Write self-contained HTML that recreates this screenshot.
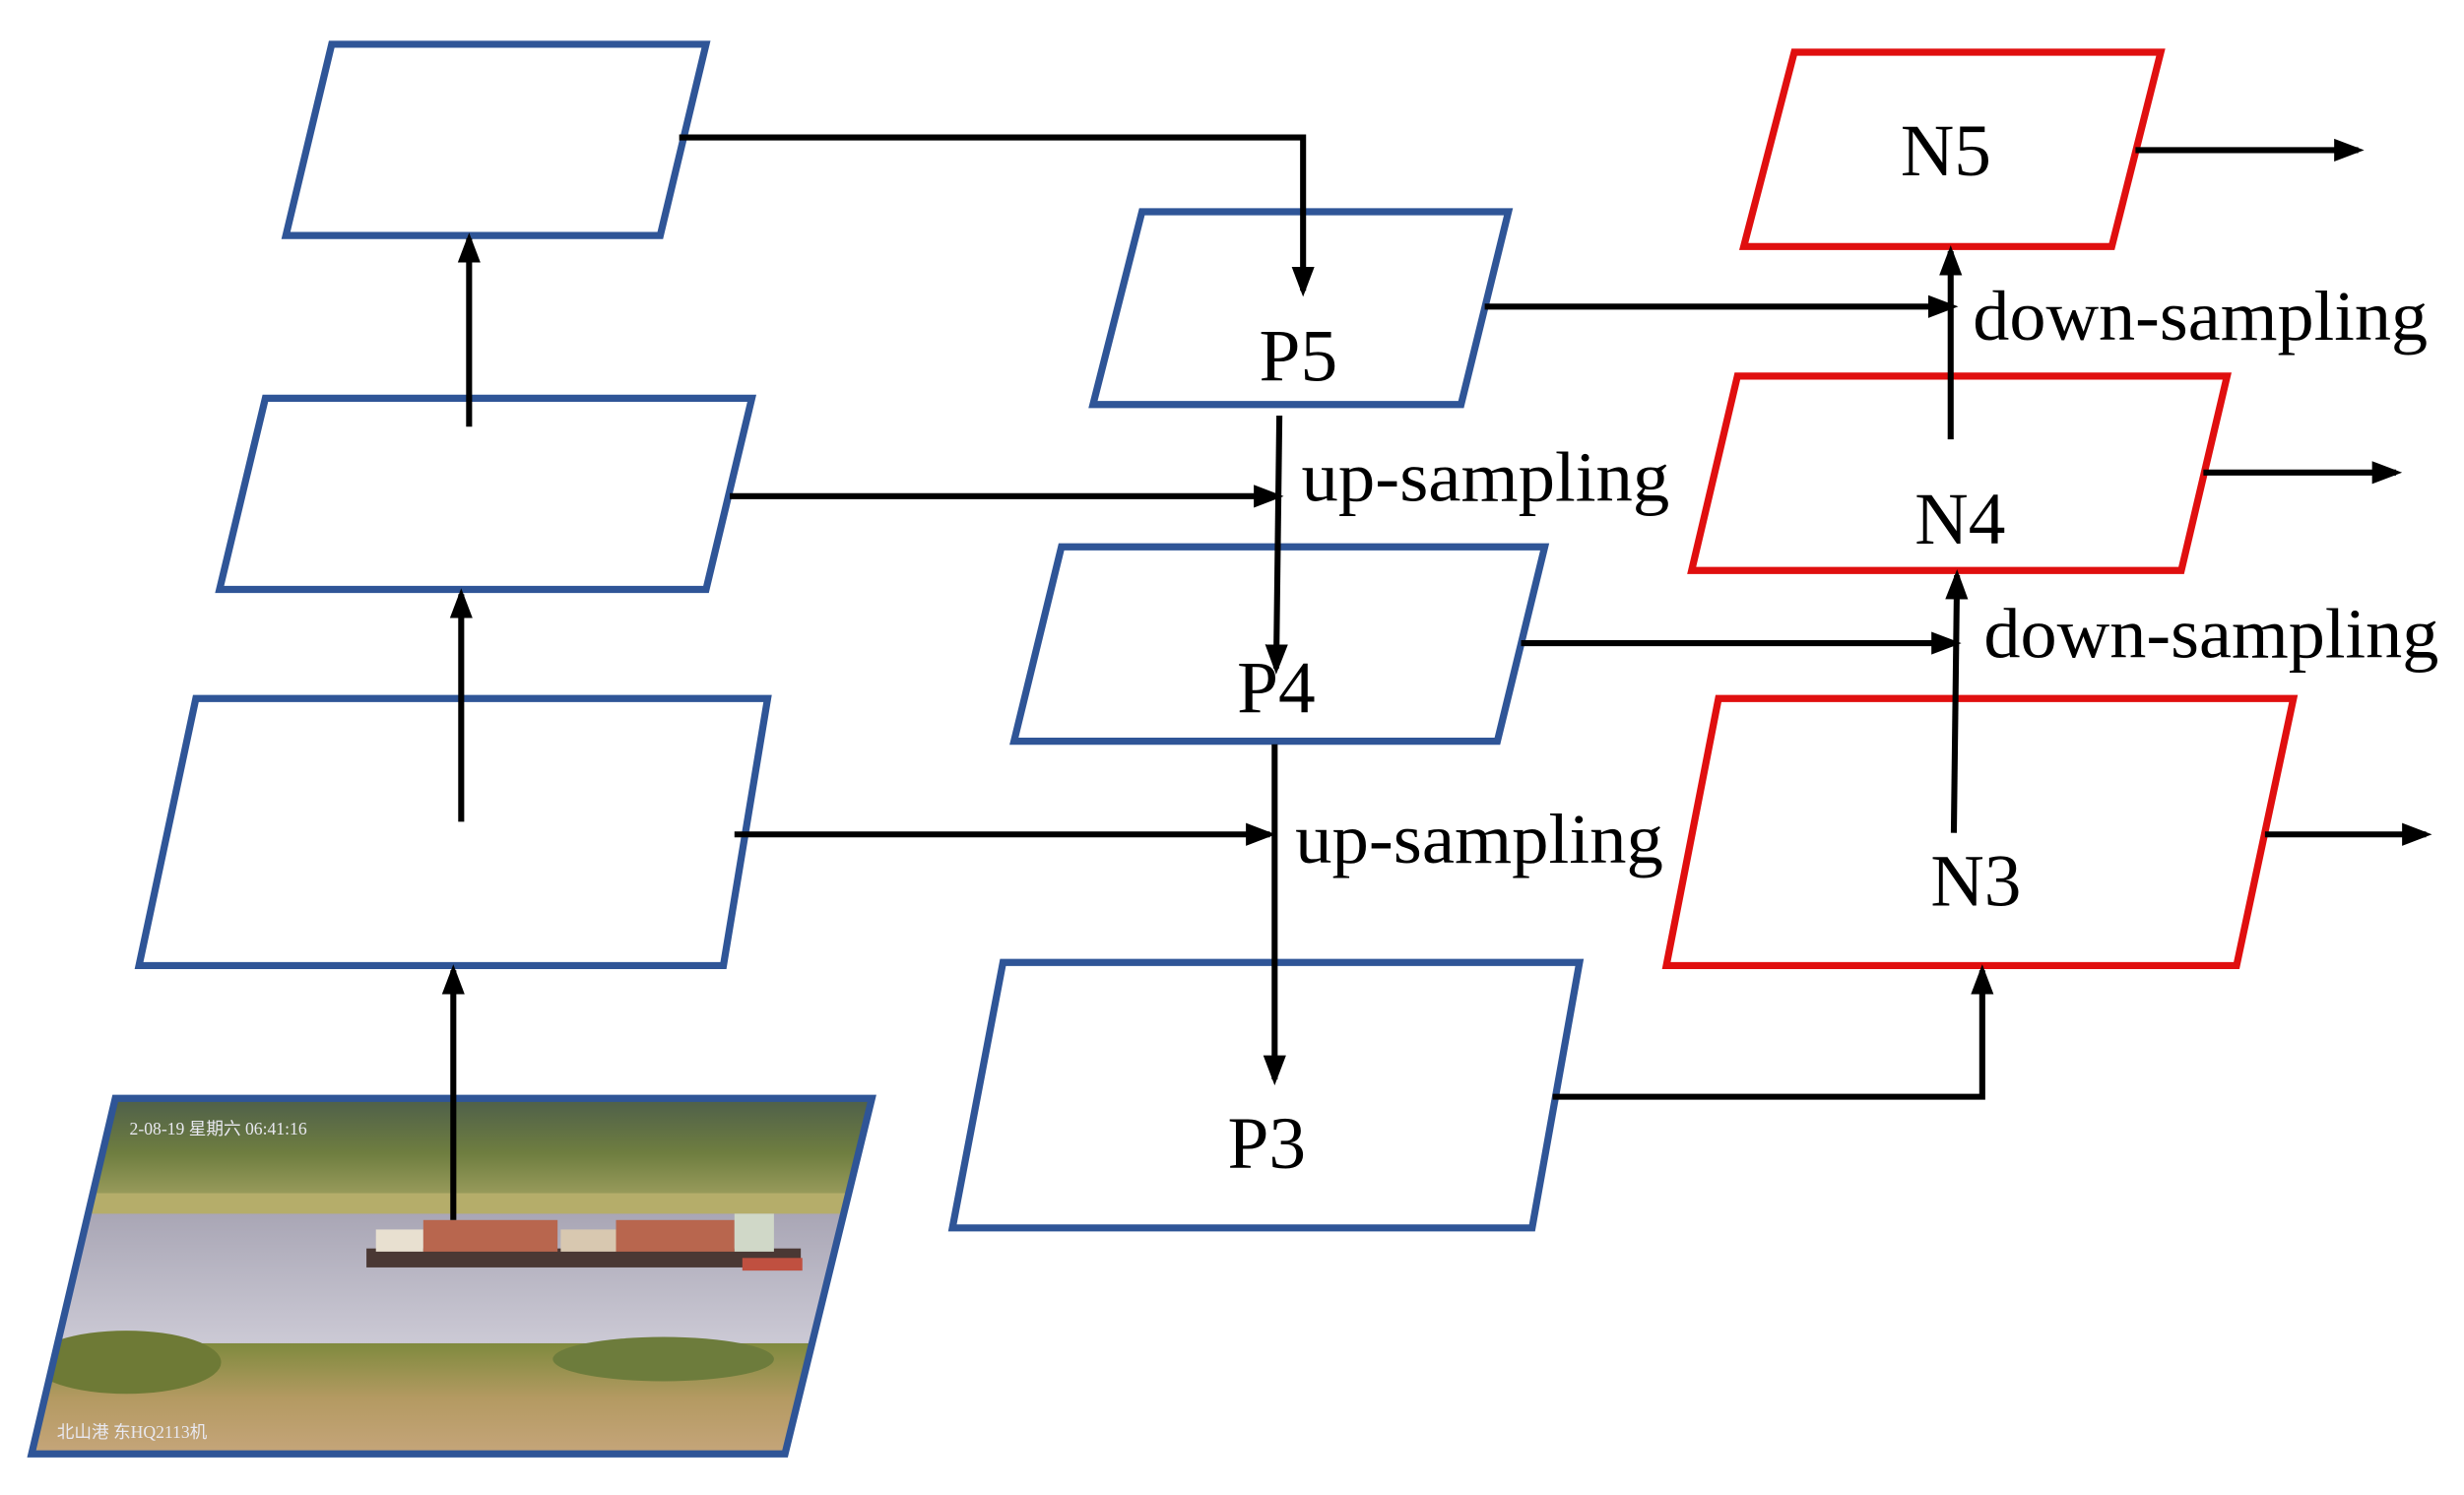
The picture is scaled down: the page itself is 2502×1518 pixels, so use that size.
<!DOCTYPE html>
<html><head><meta charset="utf-8"><style>
html,body{margin:0;padding:0;background:#fff;}
svg{display:block;}
text{font-family:"Liberation Serif",serif;fill:#000;}
</style></head><body>
<svg width="2502" height="1518" viewBox="0 0 1560 946" preserveAspectRatio="none" xmlns="http://www.w3.org/2000/svg">
<defs>
<marker id="ah" markerWidth="5" markerHeight="5" refX="4" refY="2.5" orient="auto" markerUnits="strokeWidth">
<path d="M0,0.6 L5,2.5 L0,4.4 Z" fill="#000"/>
</marker>
<clipPath id="imgclip"><polygon points="73,695 552,695 497,920 20,920"/></clipPath>
<linearGradient id="sky" x1="0" y1="0" x2="0" y2="1">
<stop offset="0" stop-color="#4e5f4a"/><stop offset="0.5" stop-color="#6f7e40"/><stop offset="1" stop-color="#a7a565"/>
</linearGradient>
<linearGradient id="water" x1="0" y1="0" x2="0" y2="1">
<stop offset="0" stop-color="#a9a6b5"/><stop offset="1" stop-color="#cfcdd8"/>
</linearGradient>
<linearGradient id="ground" x1="0" y1="0" x2="0" y2="1">
<stop offset="0" stop-color="#7f8a3e"/><stop offset="0.5" stop-color="#b49a62"/><stop offset="1" stop-color="#c5a57a"/>
</linearGradient>
</defs>

<g clip-path="url(#imgclip)">
<rect x="0" y="695" width="600" height="70" fill="url(#sky)"/>
<rect x="0" y="755" width="600" height="15" fill="#b5ad6a"/>
<rect x="0" y="768" width="600" height="90" fill="url(#water)"/>
<rect x="0" y="850" width="600" height="70" fill="url(#ground)"/>
<ellipse cx="80" cy="862" rx="60" ry="20" fill="#6e7a36"/>
<ellipse cx="420" cy="860" rx="70" ry="14" fill="#6d7c3c"/>
<rect x="232" y="790" width="275" height="12" fill="#4a3834"/>
<rect x="238" y="778" width="30" height="14" fill="#e8e0d0"/>
<rect x="268" y="772" width="85" height="20" fill="#b8664e"/>
<rect x="355" y="778" width="35" height="14" fill="#d8c8b0"/>
<rect x="390" y="772" width="75" height="20" fill="#b8664e"/>
<rect x="465" y="768" width="25" height="24" fill="#d0d8c8"/>
<rect x="470" y="796" width="38" height="8" fill="#c05040"/>
<text x="82" y="718" font-size="11" style="fill:#e8e8f0">2-08-19 星期六 06:41:16</text>
<text x="36" y="910" font-size="11" style="fill:#e8e8f0">北山港 东HQ2113机</text>
</g>
<polygon points="73,695 552,695 497,920 20,920" fill="none" stroke="#2f5597" stroke-width="4.5"/>

<g fill="none" stroke="#2f5597" stroke-width="4.5">
<polygon points="210,28 447,28 418,149 181,149"/>
<polygon points="168,252 476,252 447,373 139,373"/>
<polygon points="124,442 486,442 458,611 88,611"/>
<polygon points="723,134 955,134 925,256 692,256"/>
<polygon points="672,346 978,346 948,469 642,469"/>
<polygon points="635,609 1000,609 970,777 603,777"/>
</g>
<g fill="none" stroke="#e00f0f" stroke-width="4.5">
<polygon points="1136,33 1368,33 1337,156 1104,156"/>
<polygon points="1100,238 1410,238 1381,361 1071,361"/>
<polygon points="1088,442 1452,442 1416,611 1055,611"/>
</g>

<g fill="none" stroke="#000" stroke-width="3.8" marker-end="url(#ah)">
<polyline points="430,87 825,87 825,184"/>
<line x1="297" y1="270" x2="297" y2="151"/>
<line x1="292" y1="520" x2="292" y2="376"/>
<line x1="287" y1="772" x2="287" y2="614"/>
<line x1="462" y1="314" x2="809" y2="314"/>
<line x1="465" y1="528" x2="804" y2="528"/>
<line x1="810" y1="263" x2="808" y2="423"/>
<line x1="807" y1="471" x2="807" y2="683"/>
<line x1="940" y1="194" x2="1236" y2="194"/>
<line x1="963" y1="407" x2="1238" y2="407"/>
<line x1="1235" y1="278" x2="1235" y2="159"/>
<line x1="1237" y1="527" x2="1239" y2="364"/>
<polyline points="983,694 1255,694 1255,614"/>
<line x1="1352" y1="95" x2="1493" y2="95"/>
<line x1="1395" y1="299" x2="1517" y2="299"/>
<line x1="1434" y1="528" x2="1536" y2="528"/>
</g>

<g font-size="47" text-anchor="middle">
<text x="1232" y="111">N5</text>
<text x="822" y="241">P5</text>
<text x="808" y="451">P4</text>
<text x="802" y="739">P3</text>
<text x="1241" y="344">N4</text>
<text x="1251" y="573">N3</text>
</g>
<g font-size="45">
<text x="824" y="317" textLength="233" lengthAdjust="spacingAndGlyphs">up-sampling</text>
<text x="820" y="546" textLength="233" lengthAdjust="spacingAndGlyphs">up-sampling</text>
<text x="1249" y="215" textLength="288" lengthAdjust="spacingAndGlyphs">down-sampling</text>
<text x="1256" y="416" textLength="288" lengthAdjust="spacingAndGlyphs">down-sampling</text>
</g>
</svg>
</body></html>
